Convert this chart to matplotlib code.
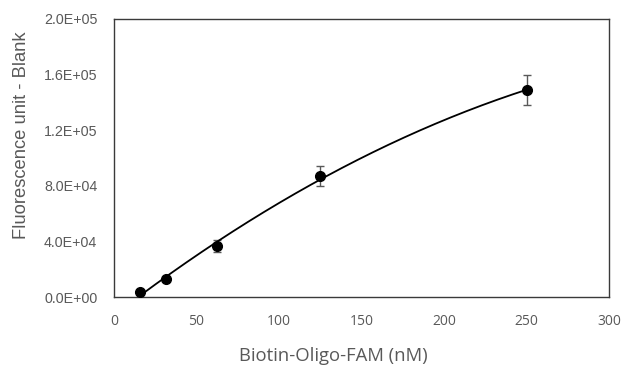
import numpy as np
import matplotlib.pyplot as plt
from matplotlib.ticker import FuncFormatter

# concentrations (nM) and blank-subtracted fluorescence
conc = [15.625, 31.25, 62.5, 125, 250]
fluor = [3600, 13300, 36500, 87000, 148500]
err = [500, 1200, 4300, 7000, 10800]

plt.rcParams['font.family'] = ['Liberation Sans', 'DejaVu Sans']
grey = '#595959'

fig = plt.figure(figsize=(6.38, 3.65), dpi=100)
ax = fig.add_axes([114 / 638, 1 - 297.3 / 365, (609 - 114) / 638, (297.3 - 18.6) / 365])

# polynomial trendline (order 2), like the spreadsheet one
coef = np.polyfit(conc, fluor, 2)
xs = np.linspace(min(conc), max(conc), 200)
ax.plot(xs, np.polyval(coef, xs), color='black', lw=1.3, zorder=2)

ax.errorbar(conc, fluor, yerr=err, fmt='none', ecolor=grey, elinewidth=1, capsize=3, capthick=1, zorder=1)
ax.plot(conc, fluor, 'o', color='black', ms=7, zorder=3)

ax.set_xlim(0, 300)
ax.set_ylim(0, 2.0e5)
ax.set_xticks(range(0, 301, 50))
ax.set_yticks(np.arange(0, 2.01e5, 4e4))
ax.yaxis.set_major_formatter(FuncFormatter(lambda v, p: f'{v:.1E}'))
ax.tick_params(length=0, labelsize=10.3, labelcolor=grey)
ax.tick_params(axis='y', pad=12)
ax.tick_params(axis='x', pad=12)
for lbl in ax.get_xticklabels():
    lbl.set_family(['Open Sans', 'DejaVu Sans'])
    lbl.set_fontsize(10)
for s in ax.spines.values():
    s.set_color('#3a3a3a')
    s.set_linewidth(1)

ax.set_xlabel('Biotin-Oligo-FAM (nM)', fontsize=13.3, color=grey, family=['Open Sans', 'DejaVu Sans'])
ax.xaxis.set_label_coords(0.444, -0.18)
ax.set_ylabel('Fluorescence unit - Blank', fontsize=13.2, color=grey)
ax.yaxis.set_label_coords(-0.17, 0.58)

fig.savefig('out.png', dpi=100)
